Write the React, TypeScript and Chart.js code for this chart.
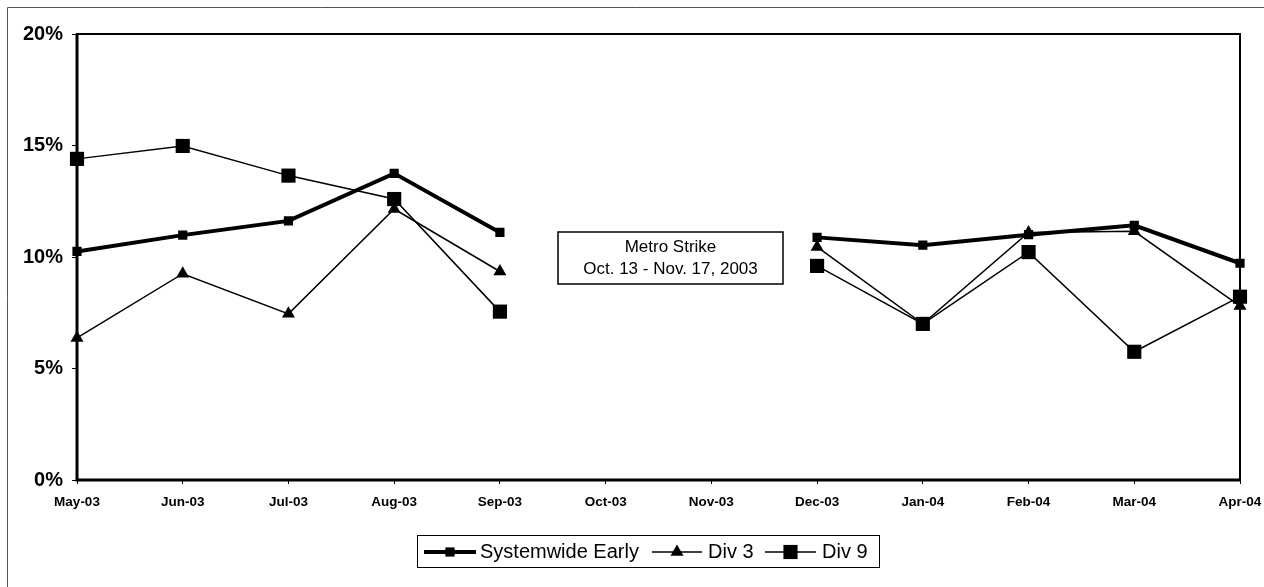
import React, { useEffect, useRef } from "react";
import { Chart, registerables } from "chart.js";

Chart.register(...registerables);

const months = ["May-03", "Jun-03", "Jul-03", "Aug-03", "Sep-03", "Oct-03", "Nov-03", "Dec-03", "Jan-04", "Feb-04", "Mar-04", "Apr-04"];
const systemwide = [10.25, 10.98, 11.62, 13.75, 11.1, null, null, 10.88, 10.53, 11.0, 11.42, 9.72];
const div3 = [6.37, 9.25, 7.45, 12.15, 9.35, null, null, 10.45, 7.0, 11.1, 11.15, 7.8];
const div9 = [14.4, 14.98, 13.65, 12.6, 7.55, null, null, 9.6, 7.0, 10.22, 5.75, 8.22];
const yTicks = [0, 5, 10, 15, 20];
const annotationLines = ["Metro Strike", "Oct. 13 - Nov. 17, 2003"];

const FONT = "'Liberation Sans', Arial, Helvetica, sans-serif";

const decorPlugin = {
  id: "decor",
  beforeDraw(chart: any) {
    const ctx = chart.ctx;
    ctx.save();
    ctx.fillStyle = "#ffffff";
    ctx.fillRect(0, 0, chart.width, chart.height);
    // outer frame (left + top)
    ctx.strokeStyle = "#555555";
    ctx.lineWidth = 1;
    ctx.beginPath();
    ctx.moveTo(7.5, chart.height);
    ctx.lineTo(7.5, 7.5);
    ctx.lineTo(chart.width, 7.5);
    ctx.stroke();
    ctx.restore();
  },
  afterDatasetsDraw(chart: any) {
    const ctx = chart.ctx;
    const a = chart.chartArea;
    ctx.save();
    ctx.strokeStyle = "#000000";
    ctx.lineWidth = 2;
    ctx.strokeRect(a.left, a.top, a.right - a.left, a.bottom - a.top);
    ctx.lineWidth = 3;
    ctx.beginPath();
    ctx.moveTo(a.left, a.top);
    ctx.lineTo(a.left, a.bottom);
    ctx.lineTo(a.right, a.bottom);
    ctx.stroke();

    // annotation box
    const xs = chart.scales.x;
    const ys = chart.scales.y;
    const cx = (xs.getPixelForValue(5) + xs.getPixelForValue(6)) / 2 + 12;
    const cy = ys.getPixelForValue(10) + 1;
    const bw = 225;
    const bh = 52;
    ctx.fillStyle = "#ffffff";
    ctx.fillRect(cx - bw / 2, cy - bh / 2, bw, bh);
    ctx.lineWidth = 1.5;
    ctx.strokeStyle = "#000000";
    ctx.strokeRect(cx - bw / 2, cy - bh / 2, bw, bh);
    ctx.fillStyle = "#000000";
    ctx.font = `17px ${FONT}`;
    ctx.textAlign = "center";
    ctx.textBaseline = "middle";
    ctx.fillText(annotationLines[0], cx, cy - 11);
    ctx.fillText(annotationLines[1], cx, cy + 11);

    // legend
    const lx = 417;
    const ly = 535;
    const lw = 462;
    const lh = 32;
    ctx.lineWidth = 1;
    ctx.strokeStyle = "#000000";
    ctx.strokeRect(lx + 0.5, ly + 0.5, lw, lh);
    const my = ly + lh / 2 + 1;
    const items = [
      { x0: 424, x1: 476, tx: 480 },
      { x0: 652, x1: 702, tx: 708 },
      { x0: 765, x1: 816, tx: 822 },
    ];
    ctx.font = `20px ${FONT}`;
    ctx.textAlign = "left";
    ctx.textBaseline = "middle";
    chart.data.datasets.forEach((ds: any, i: number) => {
      const it = items[i];
      ctx.strokeStyle = "#000000";
      ctx.lineWidth = ds.borderWidth;
      ctx.beginPath();
      ctx.moveTo(it.x0, my);
      ctx.lineTo(it.x1, my);
      ctx.stroke();
      ctx.fillStyle = "#000000";
      const mx = (it.x0 + it.x1) / 2;
      const r = ds.pointRadius;
      ctx.beginPath();
      if (ds.pointStyle === "triangle") {
        const h = r * 1.5;
        ctx.moveTo(mx, my - r);
        ctx.lineTo(mx + (r * Math.sqrt(3)) / 2, my - r + h);
        ctx.lineTo(mx - (r * Math.sqrt(3)) / 2, my - r + h);
        ctx.closePath();
      } else {
        const s = r * Math.SQRT1_2;
        ctx.rect(mx - s, my - s, 2 * s, 2 * s);
      }
      ctx.fill();
      ctx.fillText(ds.label, it.tx, my);
    });
    ctx.restore();
  },
};

export default function App() {
  const ref = useRef<HTMLCanvasElement | null>(null);
  useEffect(() => {
    if (!ref.current) return;
    const chart = new Chart(ref.current, {
      type: "line",
      data: {
        labels: months,
        datasets: [
          {
            label: "Systemwide Early",
            data: systemwide,
            borderColor: "#000000",
            backgroundColor: "#000000",
            borderWidth: 4,
            pointStyle: "rect",
            pointRadius: 6.5,
            pointBorderWidth: 0,
            spanGaps: false,
            tension: 0,
          },
          {
            label: "Div 3",
            data: div3,
            borderColor: "#000000",
            backgroundColor: "#000000",
            borderWidth: 1.5,
            pointStyle: "triangle",
            pointRadius: 7.5,
            pointBorderWidth: 0,
            spanGaps: false,
            tension: 0,
          },
          {
            label: "Div 9",
            data: div9,
            borderColor: "#000000",
            backgroundColor: "#000000",
            borderWidth: 1.5,
            pointStyle: "rect",
            pointRadius: 10,
            pointBorderWidth: 0,
            spanGaps: false,
            tension: 0,
          },
        ],
      },
      options: {
        animation: false,
        responsive: false,
        maintainAspectRatio: false,
        devicePixelRatio: 1,
        layout: { padding: { left: 0, top: 34, right: 24, bottom: 78 } },
        plugins: {
          legend: { display: false },
          tooltip: { enabled: false },
          title: { display: false },
        },
        scales: {
          x: {
            type: "category",
            offset: false,
            grid: {
              display: true,
              drawOnChartArea: false,
              drawTicks: true,
              tickLength: 4,
              color: "#000000",
              lineWidth: 1,
            },
            border: { display: false },
            ticks: {
              color: "#000000",
              font: { family: FONT, size: 13.5, weight: "bold" },
              padding: 10,
              maxRotation: 0,
              autoSkip: false,
            },
            afterFit(scale: any) {
              scale.height = 29;
              scale.paddingLeft = 0;
              scale.paddingRight = 0;
            },
          },
          y: {
            min: 0,
            max: 20,
            afterBuildTicks(scale: any) {
              scale.ticks = yTicks.map((v) => ({ value: v }));
            },
            grid: {
              display: true,
              drawOnChartArea: false,
              drawTicks: true,
              tickLength: 5,
              color: "#000000",
              lineWidth: 1,
            },
            border: { display: false },
            ticks: {
              color: "#000000",
              font: { family: FONT, size: 20, weight: "bold" },
              padding: 9,
              callback: (v: any) => `${v}%`,
            },
            afterFit(scale: any) {
              scale.width = 77;
              scale.paddingTop = 0;
              scale.paddingBottom = 0;
            },
          },
        },
      },
      plugins: [decorPlugin],
    });
    return () => chart.destroy();
  }, []);
  return (
    <div style={{ position: "absolute", left: 0, top: 0, width: 1264, height: 587, background: "#fff" }}>
      <canvas ref={ref} width={1264} height={587} style={{ display: "block", width: 1264, height: 587 }} />
    </div>
  );
}
